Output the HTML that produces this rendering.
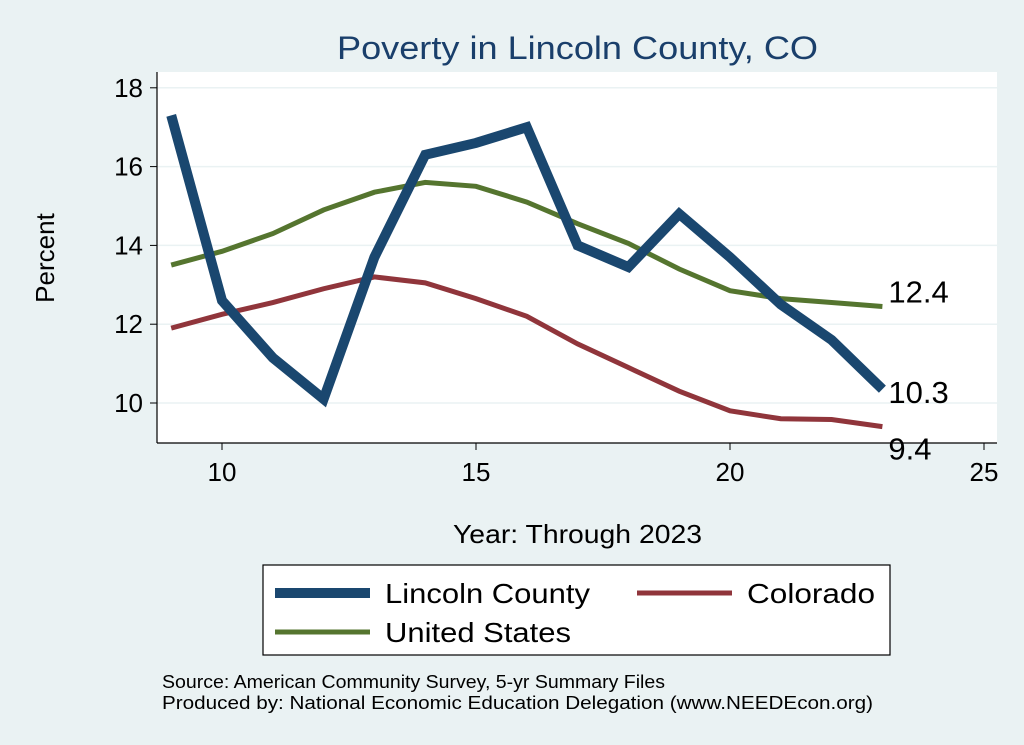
<!DOCTYPE html>
<html><head><meta charset="utf-8"><style>
html,body{margin:0;padding:0;background:#eaf2f3;}
svg{display:block;font-family:"Liberation Sans",Arial,sans-serif;}
</style></head><body>
<svg id="chart" width="1024" height="745" viewBox="0 0 1024 745">
<rect x="0" y="0" width="1024" height="745" fill="#eaf2f3"/>
<rect x="157" y="72" width="840" height="371" fill="#ffffff"/>
<text x="337" y="59" font-size="32" fill="#1a3f6b" textLength="481" lengthAdjust="spacingAndGlyphs">Poverty in Lincoln County, CO</text>
<g id="grid"></g>
<line x1="157" y1="72" x2="157" y2="443" stroke="#000" stroke-width="1.2"/>
<line x1="157" y1="443" x2="997" y2="443" stroke="#000" stroke-width="1.2"/>
<g id="ticks"></g>
<g id="series"></g>
<text x="54" y="258" font-size="26" text-anchor="middle" transform="rotate(-90 54 258)">Percent</text>
<text x="453" y="543" font-size="26" textLength="249" lengthAdjust="spacingAndGlyphs">Year: Through 2023</text>
<g>
<rect x="263" y="565" width="627" height="90" fill="#fff" stroke="#000" stroke-width="1.2"/>
<line x1="275" y1="593" x2="370" y2="593" stroke="#1a476f" stroke-width="10"/>
<text x="385" y="603" font-size="28" textLength="205" lengthAdjust="spacingAndGlyphs">Lincoln County</text>
<line x1="637" y1="593" x2="732" y2="593" stroke="#90353b" stroke-width="5"/>
<text x="747" y="603" font-size="28" textLength="128" lengthAdjust="spacingAndGlyphs">Colorado</text>
<line x1="275" y1="632" x2="370" y2="632" stroke="#55752f" stroke-width="5"/>
<text x="385" y="642" font-size="28" textLength="186" lengthAdjust="spacingAndGlyphs">United States</text>
</g>
<text x="162" y="688" font-size="18" textLength="503" lengthAdjust="spacingAndGlyphs">Source: American Community Survey, 5-yr Summary Files</text>
<text x="162" y="709" font-size="18" textLength="711" lengthAdjust="spacingAndGlyphs">Produced by: National Economic Education Delegation (www.NEEDEcon.org)</text>
</svg>
<script>
const years=[9,10,11,12,13,14,15,16,17,18,19,20,21,22,23];
const lincoln=[17.3,12.6,11.15,10.1,13.7,16.3,16.6,17.0,14.0,13.45,14.8,13.7,12.5,11.6,10.35];
const colorado=[11.9,12.25,12.55,12.9,13.2,13.05,12.65,12.2,11.5,10.9,10.3,9.8,9.6,9.58,9.4];
const us=[13.5,13.85,14.3,14.9,15.35,15.6,15.5,15.1,14.55,14.05,13.4,12.85,12.65,12.55,12.45];
const xTicks=[10,15,20,25];
const yTicks=[10,12,14,16,18];
const endLabels=["10.3","9.4","12.4"];
const NS="http://www.w3.org/2000/svg";
function xs(v){return 222+(v-10)*50.8;}
function ys(v){return 403-(v-10)*39.4;}
function mk(t,a,p){const e=document.createElementNS(NS,t);for(const k in a)e.setAttribute(k,a[k]);p.appendChild(e);return e;}
const grid=document.getElementById('grid'),ticks=document.getElementById('ticks'),ser=document.getElementById('series');
yTicks.forEach(v=>{
 const g=mk('line',{x1:157,x2:997,y1:ys(v),y2:ys(v),stroke:'#eaf2f3','stroke-width':1.5},grid);
 
 
 const t=mk('line',{x1:150,x2:157,y1:ys(v),y2:ys(v),stroke:'#000'},ticks);
 
 
 const l=mk('text',{x:143,y:ys(v)+9,'font-size':26,'text-anchor':'end'},ticks);l.textContent=v;
 
 
});
xTicks.forEach(v=>{
 const t=mk('line',{x1:xs(v),x2:xs(v),y1:443,y2:450,stroke:'#000'},ticks);
 
 
 const l=mk('text',{x:xs(v),y:481,'font-size':26,'text-anchor':'middle'},ticks);l.textContent=v;
 
 
});
function line(data,color,w,name){
 const d=data.map((v,i)=>(i?'L':'M')+xs(years[i])+','+ys(v)).join(' ');
 const p=mk('path',{d:d,fill:'none',stroke:color,'stroke-width':w,'stroke-linejoin':'miter'},ser);
 
 
}
line(colorado,'#90353b',5,'colorado-line');
line(us,'#55752f',5,'us-line');
line(lincoln,'#1a476f',10,'lincoln-line');
const last=years.length-1;
const lx=xs(years[last]);
const lab=[[lincoln[last],endLabels[0],14,'label-lincoln-end'],[colorado[last],endLabels[1],33,'label-colorado-end'],[us[last],endLabels[2],-4,'label-us-end']];
lab.forEach(a=>{
 const t=mk('text',{x:lx+6,y:ys(a[0])+a[2],'font-size':31},ser);t.textContent=a[1];
 
 
});
</script>
</body></html>
